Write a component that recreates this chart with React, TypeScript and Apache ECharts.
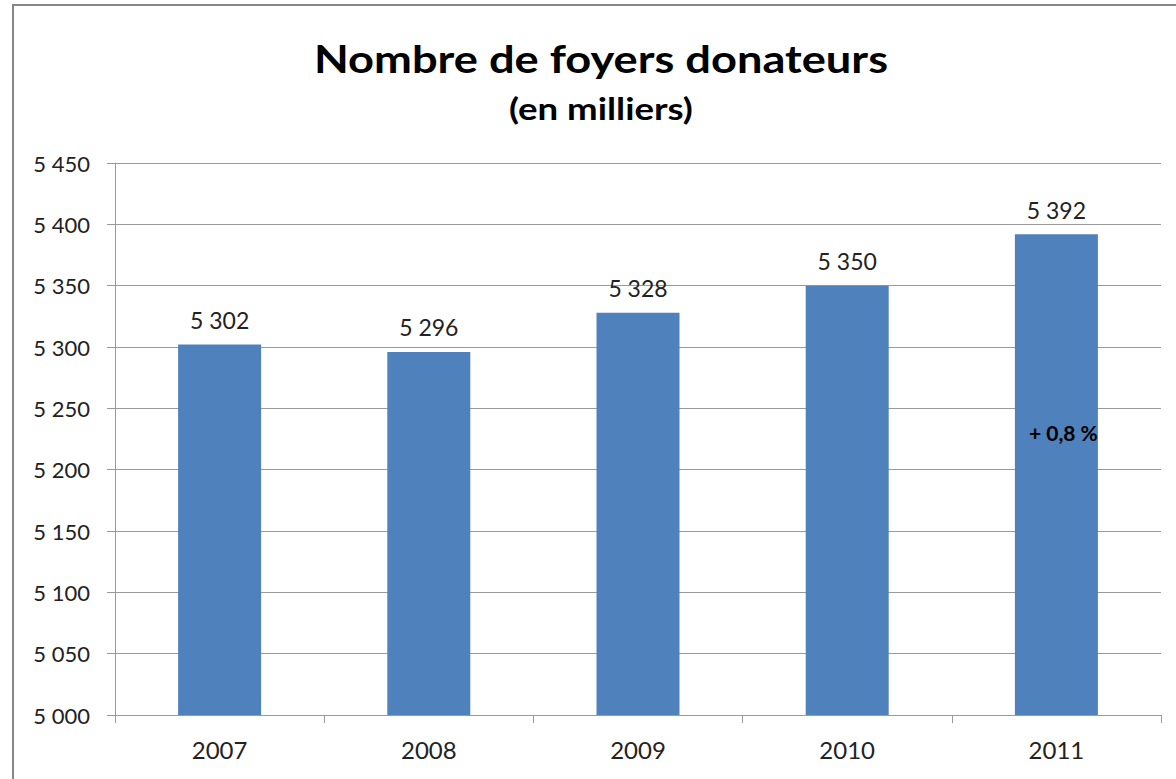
import React, { useEffect, useRef } from "react";
import * as echarts from "echarts";

const categories = ["2007", "2008", "2009", "2010", "2011"];
const values = [5302, 5296, 5328, 5350, 5392];
const yMin = 5000;
const yMax = 5450;
const yStep = 50;
const titleText = "Nombre de foyers donateurs";
const subtitleText = "(en milliers)";
const noteText = "+ 0,8 %";
const noteAt = { category: "2011", value: 5230 };

const FONT = "Lato, 'Open Sans', sans-serif";
const fmt = (v: number) => {
  const s = String(Math.round(v));
  return s.replace(/\B(?=(\d{3})+(?!\d))/g, " ");
};

export default function App() {
  const ref = useRef<HTMLDivElement>(null);
  useEffect(() => {
    if (!ref.current) return;
    const chart = echarts.init(ref.current, null, { renderer: "svg" });
    chart.setOption({
      animation: false,
      backgroundColor: "#ffffff",
      graphic: [
        {
          type: "rect",
          shape: { x: 13, y: 5, width: 1300, height: 900 },
          style: { fill: "none", stroke: "#868686", lineWidth: 2 },
          silent: true,
        },
        {
          type: "text",
          x: 601,
          y: 58,
          scaleX: 1.19,
          style: {
            text: titleText,
            font: `bold 38px ${FONT}`,
            fill: "#000000",
            textAlign: "center",
            textVerticalAlign: "middle",
          },
        },
        {
          type: "text",
          x: 601,
          y: 108,
          scaleX: 1.18,
          style: {
            text: subtitleText,
            font: `bold 31px ${FONT}`,
            fill: "#000000",
            textAlign: "center",
            textVerticalAlign: "middle",
          },
        },
      ],
      grid: { left: 115, right: 15, top: 163, bottom: 64, containLabel: false },
      xAxis: {
        type: "category",
        data: categories,
        axisLine: { lineStyle: { color: "#9a9a9a", width: 1 } },
        axisTick: { show: true, length: 8, lineStyle: { color: "#9a9a9a" } },
        axisLabel: { color: "#222", fontSize: 24, fontFamily: FONT, margin: 22 },
      },
      yAxis: {
        type: "value",
        min: yMin,
        max: yMax,
        interval: yStep,
        axisLine: { show: true, lineStyle: { color: "#9a9a9a", width: 1 } },
        axisTick: { show: true, length: 8, lineStyle: { color: "#9a9a9a" } },
        splitLine: { show: true, lineStyle: { color: "#9a9a9a", width: 1 } },
        axisLabel: {
          color: "#222",
          fontSize: 22,
          fontFamily: FONT,
          margin: 25,
          formatter: (v: number) => fmt(v),
        },
      },
      series: [
        {
          type: "bar",
          data: values,
          barWidth: 83,
          itemStyle: { color: "#4F81BD" },
          label: {
            show: true,
            position: "top",
            distance: 13,
            color: "#222",
            fontSize: 23,
            fontFamily: FONT,
            formatter: (p: any) => fmt(p.value),
          },
          markPoint: {
            symbol: "circle",
            symbolSize: 1,
            itemStyle: { color: "rgba(0,0,0,0)" },
            data: [
              {
                coord: [noteAt.category, noteAt.value],
                label: {
                  show: true,
                  position: "inside",
                  formatter: noteText,
                  color: "#000",
                  fontWeight: "bold",
                  fontSize: 21,
                  fontFamily: FONT,
                  offset: [7, 0],
                },
              },
            ],
          },
        },
      ],
    });
    return () => chart.dispose();
  }, []);
  return (
    <div
      ref={ref}
      style={{ position: "fixed", left: 0, top: 0, width: 1176, height: 779 }}
    />
  );
}
